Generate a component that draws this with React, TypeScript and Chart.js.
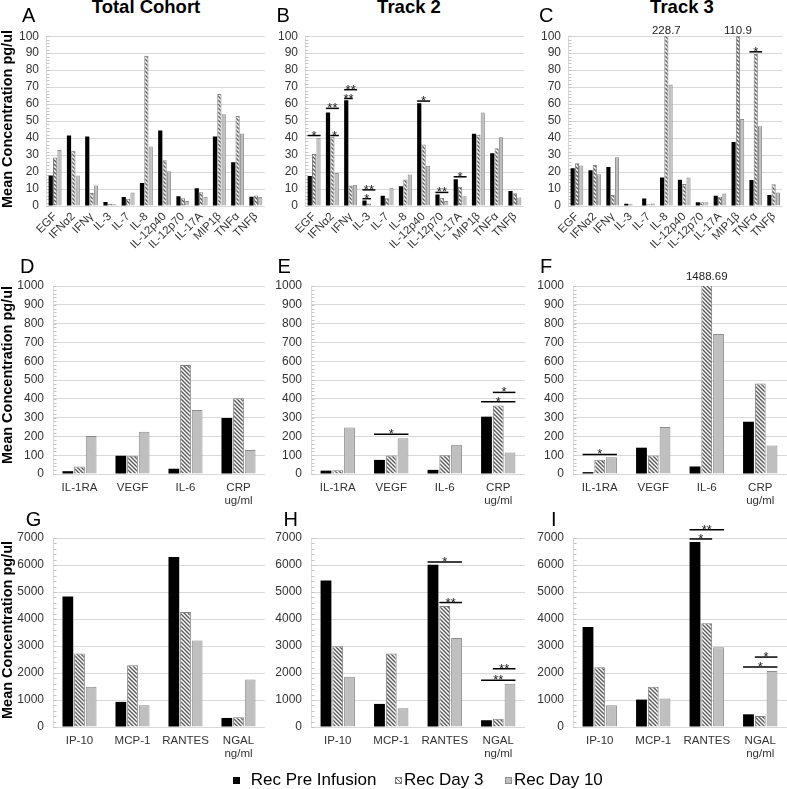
import React, { useEffect, useRef } from 'react';
import { Chart, registerables } from 'chart.js';

Chart.register(...registerables);

const FONT = "'Liberation Sans', Arial, Helvetica, sans-serif";

// ---------- categories / labels ----------
const seriesNames = ['Rec Pre Infusion', 'Rec Day 3', 'Rec Day 10'];
const columnTitles = ['Total Cohort', 'Track 2', 'Track 3'];
const panelLetters = ['A', 'B', 'C', 'D', 'E', 'F', 'G', 'H', 'I'];
const yAxisTitle = 'Mean Concentration pg/ul';
const cytokineLabels = ['EGF', 'IFNα2', 'IFNγ', 'IL-3', 'IL-7', 'IL-8', 'IL-12p40', 'IL-12p70', 'IL-17A', 'MIP1β', 'TNFα', 'TNFβ'];
const growthLabels = ['IL-1RA', 'VEGF', 'IL-6', ['CRP', 'ug/ml']];
const chemokineLabels = ['IP-10', 'MCP-1', 'RANTES', ['NGAL', 'ng/ml']];

// y-axis ranges per row: [max, step]
const cytokineAxis = [100, 10];
const growthAxis = [1000, 100];
const chemokineAxis = [7000, 1000];

// ---------- values ----------
// A: Total Cohort, cytokines
const totalCytoPre = [18, 41.5, 41, 2.3, 5.3, 13.5, 44.5, 5.7, 10.4, 41, 25.8, 5.5];
const totalCytoDay3 = [28.5, 32.5, 7.7, 1.3, 4.2, 88.5, 27, 4.5, 8.1, 66, 53, 6.2];
const totalCytoDay10 = [33, 18, 12, 1, 7.9, 35, 20.4, 3, 5.5, 54, 42.7, 5.3];
// B: Track 2, cytokines
const track2CytoPre = [17.7, 55, 62.3, 3.3, 6, 11.7, 60.5, 6.7, 15.8, 42.5, 31, 8.8];
const track2CytoDay3 = [30.6, 40.8, 12, 1.5, 4.5, 15.6, 36.2, 4.8, 11.3, 42, 34, 7.5];
const track2CytoDay10 = [40.2, 19.4, 12.5, 0.5, 10.8, 18.6, 23.7, 2.9, 5.8, 55, 40.5, 5];
// C: Track 3, cytokines
const track3CytoPre = [22.3, 21, 23, 1.3, 4.4, 16.8, 15.4, 2.2, 6, 37.7, 15.3, 6.5];
const track3CytoDay3 = [25.2, 24.2, 6.5, 1, 1, 228.7, 12.9, 2.2, 5.5, 110.9, 89.5, 12.8];
const track3CytoDay10 = [23.8, 18.7, 28.7, 0.5, 1.5, 71.5, 16.8, 2.2, 7.3, 51.3, 47, 8];
// D: Total Cohort, growth / acute phase
const totalGrowthPre = [15, 97, 28, 298];
const totalGrowthDay3 = [40, 97, 580, 403];
const totalGrowthDay10 = [202, 225, 340, 127];
// E: Track 2
const track2GrowthPre = [18, 75, 22, 305];
const track2GrowthDay3 = [20, 98, 100, 364];
const track2GrowthDay10 = [248, 190, 155, 115];
// F: Track 3
const track3GrowthPre = [10, 140, 40, 278];
const track3GrowthDay3 = [76, 98, 1488.69, 482];
const track3GrowthDay10 = [89, 250, 745, 151];
// G: Total Cohort, chemokines
const totalChemoPre = [4830, 930, 6300, 335];
const totalChemoDay3 = [2720, 2290, 4260, 360];
const totalChemoDay10 = [1490, 805, 3200, 1760];
// H: Track 2
const track2ChemoPre = [5430, 855, 6010, 250];
const track2ChemoDay3 = [2990, 2720, 4480, 310];
const track2ChemoDay10 = [1860, 690, 3300, 1600];
// I: Track 3
const track3ChemoPre = [3700, 1015, 6850, 470];
const track3ChemoDay3 = [2210, 1490, 3840, 410];
const track3ChemoDay10 = [805, 1055, 2950, 2070];

// significance brackets: [category index, from series, to series, value level, label]
const totalCytoSig: any[] = [];
const track2CytoSig = [
  [0, 0, 2, 41.5, '*'],
  [1, 0, 2, 57.5, '**'],
  [1, 1, 2, 41.5, '*'],
  [2, 0, 2, 68.5, '**'],
  [2, 0, 1, 63.3, '**'],
  [3, 0, 2, 9.5, '**'],
  [3, 0, 1, 4.3, '*'],
  [6, 0, 2, 61.8, '*'],
  [7, 0, 2, 8, '**'],
  [8, 0, 2, 17.2, '*'],
];
const track3CytoSig = [[10, 0, 2, 90.8, '*']];
const totalGrowthSig: any[] = [];
const track2GrowthSig = [
  [1, 0, 2, 212, '*'],
  [3, 0, 2, 384, '*'],
  [3, 1, 2, 434, '*'],
];
const track3GrowthSig = [[0, 0, 2, 104, '*']];
const totalChemoSig: any[] = [];
const track2ChemoSig = [
  [2, 0, 2, 6110, '*'],
  [2, 1, 2, 4610, '**'],
  [3, 0, 2, 1735, '**'],
  [3, 1, 2, 2157, '**'],
];
const track3ChemoSig = [
  [2, 0, 2, 7310, '**'],
  [2, 0, 1, 6965, '*'],
  [3, 0, 2, 2220, '*'],
  [3, 1, 2, 2590, '*'],
];

// ---------- layout (styles) ----------
const rowLayout = [
  { top: 22, bottom: 252, areaTop: 32, areaBottom: 206, rotate: true, overflowGap: 2, letterBase: 21.7 },
  { top: 262, bottom: 512, areaTop: 286, areaBottom: 474, rotate: false, overflowGap: 6.5, letterBase: 273.3 },
  { top: 505, bottom: 768, areaTop: 538, areaBottom: 727, rotate: false, overflowGap: 4, letterBase: 525.5 },
];
const colLayoutRow1 = [
  { left: 0, right: 270, areaLeft: 46, areaRight: 265 },
  { left: 262, right: 530, areaLeft: 305, areaRight: 524 },
  { left: 527, right: 787, areaLeft: 568, areaRight: 787 },
];
const colLayoutRow23 = [
  { left: 0, right: 270, areaLeft: 53, areaRight: 265 },
  { left: 262, right: 530, areaLeft: 311, areaRight: 525 },
  { left: 527, right: 787, areaLeft: 573, areaRight: 787 },
];
const letterLeft = [
  [22, 276.5, 539],
  [20, 277.4, 540],
  [25.7, 283.4, 551],
];
const titleCenters = [146, 409, 682];
const yTitleCenters = [119, 375, 630];

const rows = [
  {
    labels: cytokineLabels,
    axis: cytokineAxis,
    panels: [
      { values: [totalCytoPre, totalCytoDay3, totalCytoDay10], sig: totalCytoSig },
      { values: [track2CytoPre, track2CytoDay3, track2CytoDay10], sig: track2CytoSig },
      { values: [track3CytoPre, track3CytoDay3, track3CytoDay10], sig: track3CytoSig },
    ],
  },
  {
    labels: growthLabels,
    axis: growthAxis,
    panels: [
      { values: [totalGrowthPre, totalGrowthDay3, totalGrowthDay10], sig: totalGrowthSig },
      { values: [track2GrowthPre, track2GrowthDay3, track2GrowthDay10], sig: track2GrowthSig },
      { values: [track3GrowthPre, track3GrowthDay3, track3GrowthDay10], sig: track3GrowthSig },
    ],
  },
  {
    labels: chemokineLabels,
    axis: chemokineAxis,
    panels: [
      { values: [totalChemoPre, totalChemoDay3, totalChemoDay10], sig: totalChemoSig },
      { values: [track2ChemoPre, track2ChemoDay3, track2ChemoDay10], sig: track2ChemoSig },
      { values: [track3ChemoPre, track3ChemoDay3, track3ChemoDay10], sig: track3ChemoSig },
    ],
  },
];

function makeHatch(): CanvasPattern | string {
  const c = document.createElement('canvas');
  c.width = 4;
  c.height = 4;
  const g = c.getContext('2d');
  if (!g) return '#888';
  g.fillStyle = '#ffffff';
  g.fillRect(0, 0, 4, 4);
  g.strokeStyle = '#5a5a5a';
  g.lineWidth = 1.4;
  g.beginPath();
  g.moveTo(-1, -1); g.lineTo(5, 5);
  g.moveTo(-1, 3); g.lineTo(1, 5);
  g.moveTo(3, -1); g.lineTo(5, 1);
  g.stroke();
  return g.createPattern(c, 'repeat') || '#888';
}

function Panel({ row, col }: { row: number; col: number }) {
  const ref = useRef<HTMLCanvasElement | null>(null);
  const rl = rowLayout[row];
  const cl = (row === 0 ? colLayoutRow1 : colLayoutRow23)[col];
  const width = cl.right - cl.left;
  const height = rl.bottom - rl.top;
  const rowDef = rows[row];
  const pDef = rowDef.panels[col];
  const [yMax, yStep] = rowDef.axis;

  useEffect(() => {
    if (!ref.current) return;
    const hatch = makeHatch();
    const fills = ['#000000', hatch, '#bfbfbf'];
    const borders = ['#000000', '#7f7f7f', '#8c8c8c'];

    const marks = {
      id: 'marks' + row + col,
      beforeDatasetsDraw(chart: any) {
        const { ctx, chartArea } = chart;
        const y = chart.scales.y;
        ctx.save();
        ctx.strokeStyle = '#d9d9d9';
        ctx.lineWidth = 1;
        const ax = Math.round(chartArea.left) + 0.5;
        ctx.beginPath();
        ctx.moveTo(ax, chartArea.top);
        ctx.lineTo(ax, chartArea.bottom);
        ctx.stroke();
        ctx.strokeStyle = '#c4c4c4';
        const minor = yStep / 5;
        for (let v = 0; v <= yMax + 1e-9; v += minor) {
          const py = Math.round(y.getPixelForValue(v)) + 0.5;
          ctx.beginPath();
          ctx.moveTo(ax, py);
          ctx.lineTo(ax + 3, py);
          ctx.stroke();
        }
        ctx.restore();
      },
      afterDatasetsDraw(chart: any) {
        const { ctx, chartArea } = chart;
        const y = chart.scales.y;
        ctx.save();
        // values beyond the axis maximum
        ctx.fillStyle = '#222';
        ctx.font = `11.5px ${FONT}`;
        ctx.textAlign = 'center';
        ctx.textBaseline = 'alphabetic';
        chart.data.datasets.forEach((ds: any, di: number) => {
          const meta = chart.getDatasetMeta(di);
          ds.data.forEach((v: number, i: number) => {
            if (v > yMax) {
              const el = meta.data[i];
              ctx.fillText(String(v), el.x, chartArea.top - rl.overflowGap);
            }
          });
        });
        // significance brackets
        ctx.strokeStyle = '#000';
        ctx.lineWidth = 1.5;
        ctx.font = `13px ${FONT}`;
        pDef.sig.forEach((s: any) => {
          const [cat, a, b, level, label] = s;
          const ea = chart.getDatasetMeta(a).data[cat];
          const eb = chart.getDatasetMeta(b).data[cat];
          const x1 = ea.x - ea.width / 2;
          const x2 = eb.x + eb.width / 2;
          const py = y.getPixelForValue(level);
          ctx.beginPath();
          ctx.moveTo(x1, py);
          ctx.lineTo(x2, py);
          ctx.stroke();
          ctx.fillText(label, (x1 + x2) / 2, py + 4);
        });
        ctx.restore();
      },
    };

    const chart = new Chart(ref.current, {
      type: 'bar',
      data: {
        labels: rowDef.labels as any,
        datasets: pDef.values.map((vals, i) => ({
          label: seriesNames[i],
          data: vals,
          backgroundColor: fills[i] as any,
          borderColor: borders[i],
          borderWidth: i === 0 ? 0 : 1,
          borderSkipped: 'start',
          categoryPercentage: rl.rotate ? 0.72 : 0.66,
          barPercentage: rl.rotate ? 0.96 : 0.92,
          clip: 0,
        })),
      },
      options: {
        responsive: false,
        animation: false,
        devicePixelRatio: 1,
        layout: {
          padding: {
            left: 0,
            top: rl.areaTop - rl.top,
            right: cl.right - cl.areaRight,
            bottom: 0,
          },
        },
        plugins: {
          legend: { display: false },
          tooltip: { enabled: false },
          title: { display: false },
        },
        scales: {
          x: {
            grid: { display: false, drawTicks: false },
            border: { display: false },
            ticks: {
              autoSkip: false,
              minRotation: rl.rotate ? 45 : 0,
              maxRotation: rl.rotate ? 45 : 0,
              padding: rl.rotate ? 4 : 7,
              color: '#333',
              font: { family: FONT, size: 11.5, lineHeight: 1.15 },
            },
            afterFit: (s: any) => {
              s.height = rl.bottom - rl.areaBottom;
            },
          },
          y: {
            min: 0,
            max: yMax,
            ticks: {
              stepSize: yStep,
              autoSkip: false,
              padding: rl.rotate ? 7 : 9,
              color: '#333',
              font: { family: FONT, size: 12 },
              callback: (v: any) => String(v),
            },
            grid: { color: '#d9d9d9', drawTicks: false, lineWidth: 1 },
            border: { display: false },
            afterFit: (s: any) => {
              s.width = cl.areaLeft - cl.left;
            },
          },
        },
      },
      plugins: [marks as any],
    });
    return () => chart.destroy();
  }, []);

  return (
    <canvas
      ref={ref}
      width={width}
      height={height}
      style={{ position: 'absolute', left: cl.left, top: rl.top, width, height }}
    />
  );
}

const legendSquareLeft = [233, 395, 505];
const legendTextLeft = [250.7, 404, 514];

export default function App() {
  const letterStyle = (left: number, base: number): React.CSSProperties => ({
    position: 'absolute',
    left,
    top: base - 16.93,
    fontFamily: FONT,
    fontSize: 20,
    lineHeight: '20px',
    color: '#000',
    whiteSpace: 'nowrap',
  });
  const squareStyles: React.CSSProperties[] = [
    { background: '#000', border: '1px solid #000' },
    {
      background: 'repeating-linear-gradient(45deg, #5a5a5a 0 1px, #ffffff 1px 3px)',
      border: '1px solid #7f7f7f',
    },
    { background: '#bfbfbf', border: '1px solid #8c8c8c' },
  ];
  return (
    <div
      style={{
        position: 'absolute',
        left: 0,
        top: 0,
        width: 787,
        height: 789,
        overflow: 'hidden',
        background: '#fff',
      }}
    >
      {[0, 1, 2].map((r) =>
        [0, 1, 2].map((c) => <Panel key={`${r}-${c}`} row={r} col={c} />)
      )}
      {columnTitles.map((t, i) => (
        <div
          key={t}
          style={{
            position: 'absolute',
            left: titleCenters[i] - 100,
            width: 200,
            top: 13.8 - 15.66,
            textAlign: 'center',
            fontFamily: FONT,
            fontWeight: 'bold',
            fontSize: 18.5,
            lineHeight: '18.5px',
            color: '#000',
          }}
        >
          {t}
        </div>
      ))}
      {panelLetters.map((l, i) => {
        const r = Math.floor(i / 3);
        const c = i % 3;
        return (
          <div key={l} style={letterStyle(letterLeft[r][c], rowLayout[r].letterBase)}>
            {l}
          </div>
        );
      })}
      {yTitleCenters.map((cy, i) => (
        <div
          key={'yt' + i}
          style={{
            position: 'absolute',
            left: 7 - 100,
            top: cy - 9,
            width: 200,
            height: 18,
            lineHeight: '18px',
            textAlign: 'center',
            transform: 'rotate(-90deg)',
            fontFamily: FONT,
            fontWeight: 'bold',
            fontSize: 14.5,
            color: '#000',
            whiteSpace: 'nowrap',
          }}
        >
          {yAxisTitle}
        </div>
      ))}
      {seriesNames.map((n, i) => (
        <React.Fragment key={n}>
          <div
            style={{
              position: 'absolute',
              left: legendSquareLeft[i],
              top: 776.5,
              width: 5,
              height: 5,
              ...squareStyles[i],
            }}
          />
          <div
            style={{
              position: 'absolute',
              left: legendTextLeft[i],
              top: 785 - 14.39,
              fontFamily: FONT,
              fontSize: 17,
              lineHeight: '17px',
              color: '#000',
              whiteSpace: 'nowrap',
            }}
          >
            {n}
          </div>
        </React.Fragment>
      ))}
    </div>
  );
}
